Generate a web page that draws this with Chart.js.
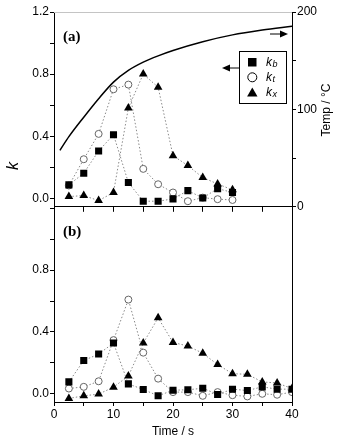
<!DOCTYPE html>
<html>
<head>
<meta charset="utf-8">
<script src="https://cdn.jsdelivr.net/npm/chart.js@4.4.0/dist/chart.umd.min.js"></script>
<style>
  body { margin: 0; background: #fff; }
  #wrap { position: relative; width: 352px; height: 445px; }
  canvas { position: absolute; left: 0; }
  #top { top: 0; width: 352px; height: 215px; }
  #bot { top: 200px; width: 352px; height: 245px; }
</style>
</head>
<body>
<div id="wrap">
  <canvas id="top" width="352" height="215"></canvas>
  <canvas id="bot" width="352" height="245"></canvas>
</div>
<script>
// panel (a)
var timeA = [2.5, 5, 7.5, 10, 12.5, 15, 17.5, 20, 22.5, 25, 27.5, 30];
var kbA = [0.088, 0.163, 0.306, 0.411, 0.103, -0.017, -0.017, -0.002, 0.051, 0.004, 0.064, 0.039];
var ktA = [0.084, 0.253, 0.416, 0.703, 0.733, 0.191, 0.092, 0.039, -0.017, 0.006, -0.004, -0.009];
var kxA = [0.013, 0.019, -0.013, 0.039, 0.583, 0.801, 0.716, 0.276, 0.212, 0.135, 0.094, 0.056];

// temperature curve (right axis)
var tempTime = [1, 2.5, 5, 7.5, 10, 12.5, 15, 17.5, 20, 25, 30, 35, 40];
var tempVal = [58, 72, 92, 111, 128, 140, 148.5, 155, 160.5, 169.5, 176.5, 181.5, 185.5];

// panel (b)
var timeB = [2.5, 5, 7.5, 10, 12.5, 15, 17.5, 20, 22.5, 25, 27.5, 30, 32.5, 35, 37.5, 40];
var kbB = [0.077, 0.215, 0.257, 0.328, 0.064, 0.028, -0.013, 0.023, 0.026, 0.036, -0.004, 0.030, 0.021, 0.045, 0.030, 0.030];
var ktB = [0.034, 0.045, 0.081, 0.347, 0.609, 0.266, 0.098, 0.011, 0.011, -0.013, 0.011, -0.009, -0.017, 0.0, -0.006, 0.011];
var kxB = [-0.030, -0.013, -0.002, 0.043, 0.115, 0.328, 0.491, 0.332, 0.309, 0.262, 0.189, 0.130, 0.126, 0.077, 0.070, 0.034];

var xTicks = [0, 5, 10, 15, 20, 25, 30, 35, 40];
var kTicks = [0, 0.2, 0.4, 0.6, 0.8, 1.0, 1.2];
var tempTicks = [0, 50, 100, 150, 200];

var FONT = 'Liberation Sans, Arial, sans-serif';

function pts(xs, ys) {
  return xs.map(function (x, i) { return { x: x, y: ys[i] }; });
}

function kSets(xs, kb, kt, kx) {
  var line = { borderColor: '#8a8a8a', borderWidth: 1, borderDash: [1.5, 2], showLine: true };
  return [
    Object.assign({ data: pts(xs, kb), pointStyle: 'rect', pointRadius: 5,
      pointBackgroundColor: '#000', pointBorderColor: '#000', pointBorderWidth: 0 }, line),
    Object.assign({ data: pts(xs, kt), pointStyle: 'circle', pointRadius: 3.5,
      pointBackgroundColor: '#fff', pointBorderColor: '#666', pointBorderWidth: 1 }, line),
    Object.assign({ data: pts(xs, kx), pointStyle: 'triangle', pointRadius: 5,
      pointBackgroundColor: '#000', pointBorderColor: '#000', pointBorderWidth: 0 }, line)
  ];
}

function setTicks(list) {
  return function (s) { s.ticks = list.map(function (v) { return { value: v }; }); };
}

function kAxis(labels) {
  return {
    position: 'left', min: -0.053, max: 1.2,
    afterBuildTicks: setTicks(kTicks),
    afterFit: function (s) { s.width = 54; },
    grid: { drawOnChartArea: false, tickLength: 4, color: '#000' },
    border: { color: '#000', width: 1 },
    ticks: {
      padding: 1, color: '#000', font: { family: FONT, size: 12 },
      callback: function (v) {
        var r = Math.round(v * 10) / 10;
        return labels.indexOf(r) >= 0 ? r.toFixed(1) : '';
      }
    }
  };
}

function rotText(ctx, txt, x, y, font) {
  ctx.save();
  ctx.translate(x, y);
  ctx.rotate(-Math.PI / 2);
  ctx.font = font;
  ctx.fillStyle = '#000';
  ctx.textAlign = 'center';
  ctx.textBaseline = 'middle';
  ctx.fillText(txt, 0, 0);
  ctx.restore();
}

function arrow(ctx, x1, x2, y) {
  var dir = x2 > x1 ? 1 : -1;
  ctx.beginPath();
  ctx.moveTo(x1, y);
  ctx.lineTo(x2 - dir * 5, y);
  ctx.stroke();
  ctx.beginPath();
  ctx.moveTo(x2, y);
  ctx.lineTo(x2 - dir * 8, y - 3.5);
  ctx.lineTo(x2 - dir * 8, y + 3.5);
  ctx.closePath();
  ctx.fill();
}

var decorA = {
  id: 'decorA',
  afterDraw: function (chart) {
    var ctx = chart.ctx, a = chart.chartArea;
    ctx.save();
    ctx.strokeStyle = '#c4c4c4';
    ctx.lineWidth = 1;
    ctx.beginPath();
    ctx.moveTo(a.left, a.top + 0.5);
    ctx.lineTo(a.right, a.top + 0.5);
    ctx.stroke();

    ctx.fillStyle = '#000';
    ctx.font = 'bold 15px Liberation Serif, Times New Roman, serif';
    ctx.textBaseline = 'middle';
    ctx.textAlign = 'left';
    ctx.fillText('(a)', 63, 37);

    rotText(ctx, 'k', 14, 166, 'italic 16px ' + FONT);
    rotText(ctx, 'Temp / \u00B0C', 327, 110, '12px ' + FONT);

    // legend
    ctx.strokeStyle = '#000';
    ctx.lineWidth = 1;
    ctx.strokeRect(239.5, 51.5, 47, 52);
    ctx.fillRect(248, 58, 8.5, 8.5);
    ctx.beginPath();
    ctx.arc(252.3, 77.3, 4.5, 0, Math.PI * 2);
    ctx.stroke();
    ctx.beginPath();
    ctx.moveTo(252.3, 87.5);
    ctx.lineTo(257.5, 96.5);
    ctx.lineTo(247.1, 96.5);
    ctx.closePath();
    ctx.fill();
    var subs = ['b', 't', 'x'];
    for (var i = 0; i < 3; i++) {
      var y = 62.5 + i * 15;
      ctx.font = 'italic 12px ' + FONT;
      ctx.textBaseline = 'middle';
      ctx.fillText('k', 266, y);
      ctx.font = 'italic 9px ' + FONT;
      ctx.fillText(subs[i], 272.5, y + 2);
    }

    arrow(ctx, 239, 222, 68);
    arrow(ctx, 270, 288, 34);
    ctx.restore();
  }
};

var decorB = {
  id: 'decorB',
  afterDraw: function (chart) {
    var ctx = chart.ctx, a = chart.chartArea;
    ctx.save();
    ctx.strokeStyle = '#000';
    ctx.lineWidth = 1;
    ctx.beginPath();
    ctx.moveTo(a.right + 0.5, a.top);
    ctx.lineTo(a.right + 0.5, a.bottom);
    ctx.stroke();
    ctx.fillStyle = '#000';
    ctx.font = 'bold 15px Liberation Serif, Times New Roman, serif';
    ctx.textBaseline = 'middle';
    ctx.fillText('(b)', 63, 32);
    ctx.restore();
  }
};

var setsA = kSets(timeA, kbA, ktA, kxA);
setsA.forEach(function (d) { d.yAxisID = 'y'; });
setsA.push({
  data: pts(tempTime, tempVal), yAxisID: 'yT', borderColor: '#000', borderWidth: 1.5,
  pointRadius: 0, tension: 0.4, cubicInterpolationMode: 'monotone'
});

new Chart(document.getElementById('top'), {
  type: 'line',
  data: { datasets: setsA },
  options: {
    responsive: false, animation: false,
    layout: { padding: { top: 12, left: 0, right: 0, bottom: 0 } },
    plugins: { legend: { display: false }, tooltip: { enabled: false } },
    scales: {
      x: {
        type: 'linear', min: 0, max: 40,
        afterBuildTicks: setTicks(xTicks),
        afterFit: function (s) { s.height = 8; },
        grid: { drawOnChartArea: false, tickLength: 5, color: '#000' },
        border: { color: '#000', width: 1 },
        ticks: { display: false }
      },
      y: kAxis([0, 0.4, 0.8, 1.2]),
      yT: {
        position: 'right', min: 0, max: 200,
        afterBuildTicks: setTicks(tempTicks),
        afterFit: function (s) { s.width = 60; },
        grid: { drawOnChartArea: false, tickLength: 4, color: '#000' },
        border: { color: '#000', width: 1 },
        ticks: {
          padding: 1, color: '#000', font: { family: FONT, size: 12 },
          callback: function (v) { return v % 100 === 0 ? String(v) : ''; }
        }
      }
    }
  },
  plugins: [decorA]
});

new Chart(document.getElementById('bot'), {
  type: 'line',
  data: { datasets: kSets(timeB, kbB, ktB, kxB) },
  options: {
    responsive: false, animation: false,
    layout: { padding: { top: 7, left: 0, right: 60, bottom: 0 } },
    plugins: { legend: { display: false }, tooltip: { enabled: false } },
    scales: {
      x: {
        type: 'linear', min: 0, max: 40,
        afterBuildTicks: setTicks(xTicks),
        afterFit: function (s) { s.height = 43; },
        grid: { drawOnChartArea: false, tickLength: 4, color: '#000' },
        border: { color: '#000', width: 1 },
        ticks: {
          padding: 1, color: '#000', font: { family: FONT, size: 12 }, maxRotation: 0,
          callback: function (v) { return v % 10 === 0 ? String(v) : ''; }
        },
        title: { display: true, text: 'Time / s', color: '#000',
          font: { family: FONT, size: 12 }, padding: { top: 0, bottom: 6 } }
      },
      y: kAxis([0, 0.4, 0.8])
    }
  },
  plugins: [decorB]
});
</script>
</body>
</html>
